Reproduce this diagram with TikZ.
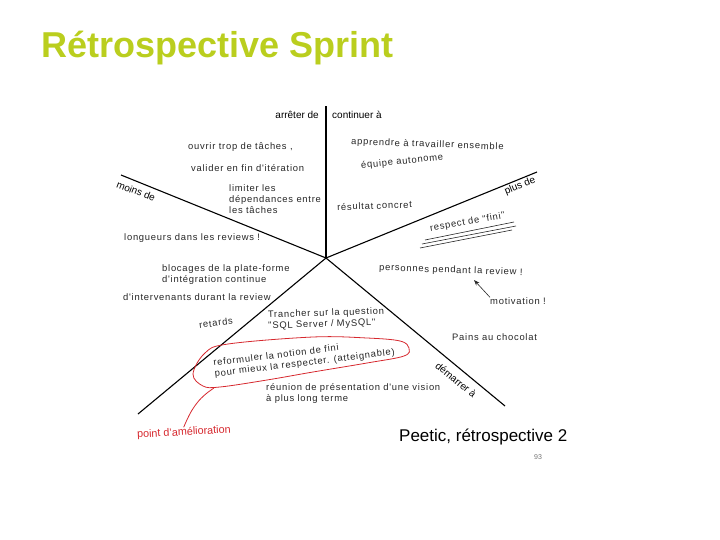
\documentclass[tikz,border=0pt]{standalone}
\usepackage{fontspec}
\setmainfont{Liberation Sans}
\newfontfamily\handfont[LetterSpace=8]{Liberation Sans}
\usetikzlibrary{arrows.meta}
\definecolor{titlegreen}{RGB}{186,206,30}
\definecolor{markred}{RGB}{214,40,46}

\begin{document}
\begin{tikzpicture}[
  x=1pt, y=-1pt, >=Stealth,
  axe/.style={line width=1.1pt, black},
  cat/.style={inner sep=0pt, font=\fontsize{10}{12}\selectfont},
  hand/.style={inner sep=0pt, anchor=west, align=left, text=black!85, font=\handfont\fontsize{9.4}{11}\selectfont},
  redmark/.style={draw=markred, line width=0.8pt},
]
  \useasboundingbox (0,0) rectangle (720,540);
  \node[anchor=west, inner sep=0pt, text=titlegreen, font=\bfseries\fontsize{36}{40}\selectfont] (title) at (41,48) {Rétrospective Sprint};

  % starfish
  \coordinate (c) at (326,258);
  \coordinate (top) at (326,106);
  \coordinate (ul) at (121,175);
  \coordinate (ur) at (537,172);
  \coordinate (lr) at (505,406);
  \coordinate (ll) at (138,414);
  \foreach \e in {top,ul,ur,lr,ll} \draw[axe] (c) -- (\e);

  \node[cat, anchor=east] (stop) at (319,115) {arrêter de};
  \node[cat, anchor=west] (cont) at (332,115) {continuer à};
  \node[cat, rotate=-21] (less) at (136,191) {moins de};
  \node[cat, rotate=22] (more) at (520,186) {plus de};
  \node[cat, rotate=-39] (start) at (456,380) {démarrer à};

  % arrêter de
  \node[hand] (ouvrir) at (188,147) {ouvrir trop de tâches ,};
  \node[hand] (valider) at (191,168) {valider en fin d'itération};
  \node[hand] (limiter) at (229,199) {limiter les\\dépendances entre\\les tâches};

  % continuer à
  \node[hand, rotate=-2] (apprendre) at (351,142) {apprendre à travailler ensemble};
  \node[hand, rotate=6] (equipe) at (361,166) {équipe autonome};
  \node[hand, rotate=2] (resultat) at (337,207) {résultat concret};

  % plus de
  \node[hand, rotate=10] (respect) at (430,229) {respect de "fini"};
  \draw[black!85, line width=0.6pt] (425,240) -- (514,222);
  \draw[black!85, line width=0.6pt] (422,244) -- (516,226);
  \draw[black!85, line width=0.6pt] (420,248) -- (512,230);
  \node[hand, rotate=-2] (pers) at (379,268) {personnes pendant la review !};
  \node[hand] (motiv) at (490,301) {motivation !};
  \coordinate (tip) at (474,280);
  \draw[->, black!85, line width=0.6pt] (motiv.north west) -- (tip);
  \node[hand] (pains) at (452,337) {Pains au chocolat};

  % moins de
  \node[hand] (longueurs) at (124,238) {longueurs dans les reviews !};
  \node[hand] (blocages) at (162,275) {blocages de la plate-forme\\d'intégration continue};
  \node[hand] (interv) at (123,297) {d'intervenants durant la review};
  \node[hand, rotate=7] (retards) at (199,325) {retards};

  % démarrer à
  \node[hand, rotate=2] (trancher) at (268,321) {Trancher sur la question\\"SQL Server / MySQL"};
  \node[hand, rotate=7] (reform) at (214,369) {reformuler la notion de fini\\pour mieux la respecter. (atteignable)};
  \node[hand] (reunion) at (266,394) {réunion de présentation d'une vision\\à plus long terme};

  % point d'amélioration
  \draw[redmark] plot[smooth cycle, tension=0.6] coordinates {(193,374) (205,353) (228,344) (313,337) (367,338) (400,341) (409,348) (404,356) (367,363) (313,372) (267,380) (220,387) (203,386)};
  \coordinate (loopbot) at (214,388);
  \node[anchor=west, inner sep=0pt, rotate=3, text=markred, font=\fontsize{10.8}{12}\selectfont] (amel) at (137,435) {point d'amélioration};
  \draw[redmark] (loopbot) .. controls (197,399) and (191,410) .. (amel.north);

  \node[anchor=west, inner sep=0pt, font=\fontsize{17}{20}\selectfont] (peetic) at (399,437) {Peetic, rétrospective 2};
  \node[inner sep=0pt, text=black!55, font=\fontsize{7}{8}\selectfont] (page) at (538,457) {93};
\end{tikzpicture}
\end{document}
